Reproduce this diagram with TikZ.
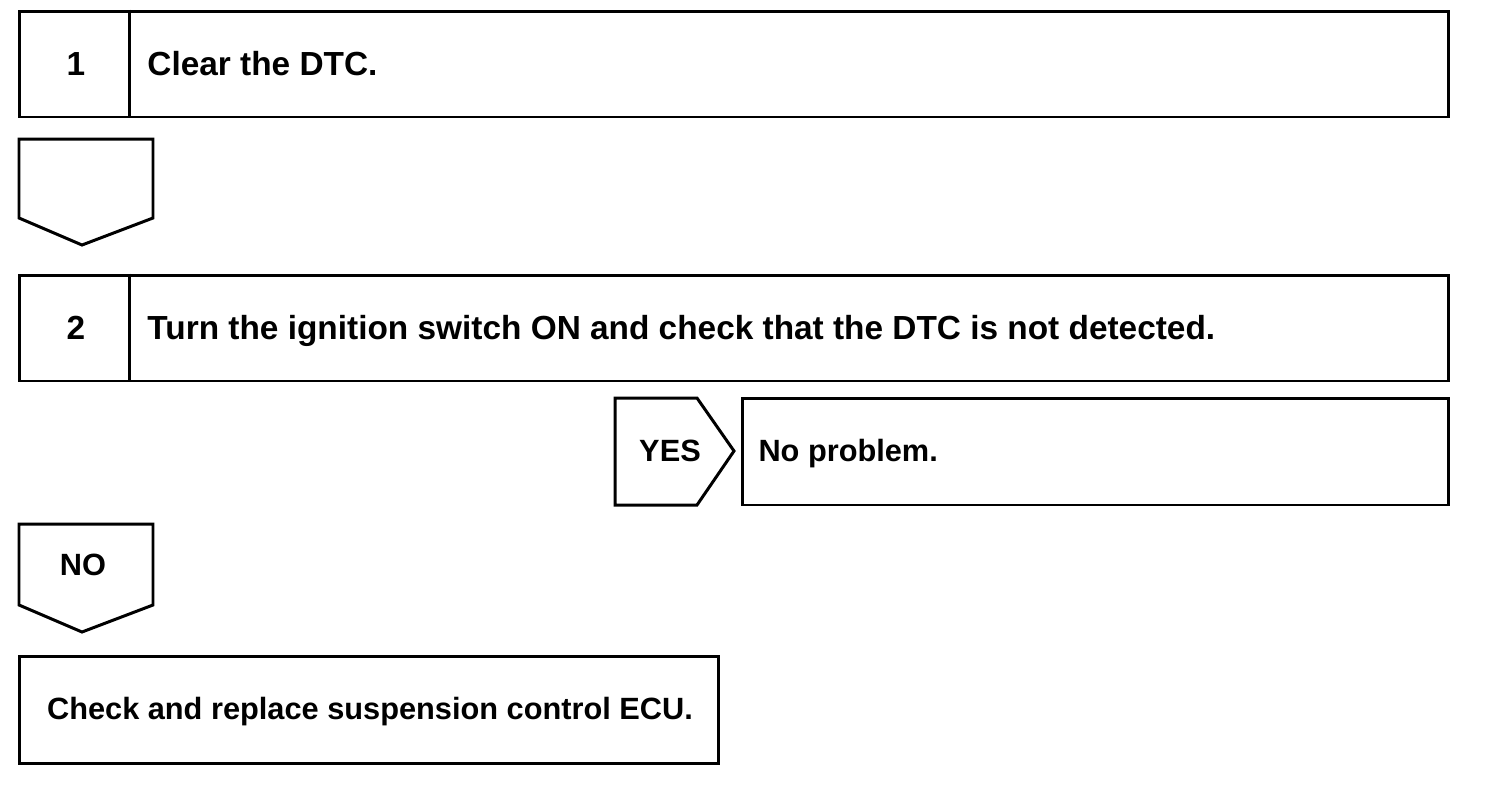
\documentclass[tikz,border=0pt]{standalone}
\usepackage{fontspec}
\setmainfont{Liberation Sans}
\usetikzlibrary{positioning}
\begin{document}
\begin{tikzpicture}[x=0.02cm,y=-0.02cm,line width=1.7pt,line join=miter,
    stepbox/.style={draw,rectangle,inner sep=0pt},
    txt/.style={inner sep=0pt,font=\bfseries\fontsize{19}{22}\selectfont,text height=13.6pt,text depth=0pt},
    small/.style={txt,font=\bfseries\fontsize{17.5}{21}\selectfont,text height=12.5pt}]
    \useasboundingbox (0,0) rectangle (1504,806);
    %% step 1
    \node[stepbox,minimum width=28.6cm,minimum height=2.12cm] (box1) at (734,64) {};
    \draw ([xshift=2.24cm]box1.north west) -- ([xshift=2.24cm]box1.south west);
    \node[txt] (num1) at (76,64) {1};
    \node[txt,anchor=west] (text1) at (146,64) {Clear the DTC.};
    %% arrow down
    \draw (19,139) -- (153,139) -- (153,218) -- (82,245) -- (19,218) -- cycle;
    %% step 2
    \node[stepbox,minimum width=28.6cm,minimum height=2.12cm] (box2) at (734,328) {};
    \draw ([xshift=2.24cm]box2.north west) -- ([xshift=2.24cm]box2.south west);
    \node[txt] (num2) at (76,328) {2};
    \node[txt,anchor=west] (text2) at (146,328) {Turn the ignition switch ON and check that the DTC is not detected.};
    %% yes
    \draw (615,398) -- (697,398) -- (734,451) -- (697,505) -- (615,505) -- cycle;
    \node[small] (yes) at (670,451) {YES};
    \node[stepbox,minimum width=14.14cm,minimum height=2.14cm] (okbox) at (1095.5,451.5) {};
    \node[small,anchor=west] (oktext) at (757,451) {No problem.};
    %% no
    \draw (19,524) -- (153,524) -- (153,605) -- (82,632) -- (19,605) -- cycle;
    \node[small] (no) at (83,565) {NO};
    \node[stepbox,minimum width=14cm,minimum height=2.14cm] (ecubox) at (369,709.5) {};
    \node[small] (ecutext) at (370,709) {Check and replace suspension control ECU.};
\end{tikzpicture}
\end{document}
